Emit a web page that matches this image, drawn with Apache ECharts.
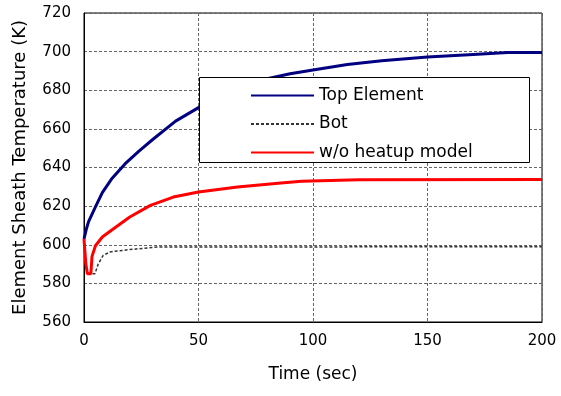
<!DOCTYPE html>
<html>
<head>
<meta charset="utf-8">
<script src="https://cdn.jsdelivr.net/npm/echarts@6/dist/echarts.min.js"></script>
<style>
  html, body { margin: 0; padding: 0; background: #fff; }
  #chart { width: 561px; height: 396px; }
</style>
</head>
<body>
<div id="chart"></div>
<script>
// Top Element
const topTime = [0, 1, 2, 5, 8, 12, 18, 24, 30, 40, 50, 60, 70, 80, 90, 100, 115, 130, 150, 170, 185, 200];
const topTemp = [603, 608, 612, 619.6, 627, 634, 642, 648.5, 654.5, 664, 671, 676.5, 681.5, 686, 688.5, 690.5, 693.3, 695.3, 697.2, 698.5, 699.5, 699.5];
// Bot
const botTime = [0, 0.8, 1.5, 4.8, 6.2, 8.4, 11.4, 20, 31.7, 200];
const botTemp = [603, 590, 585, 585, 590, 594.5, 596.3, 597.5, 598.8, 599];
// w/o heatup model
const redTime = [0, 0.8, 1.5, 3, 3.5, 5, 8, 12, 20, 29, 39, 50, 67, 86, 95, 120, 200];
const redTemp = [603, 590, 585, 585, 594, 599.5, 604, 607.5, 614.4, 620.4, 624.7, 627.3, 629.9, 632, 632.9, 633.7, 633.8];

const xTicks = [0, 50, 100, 150, 200];
const yTicks = [560, 580, 600, 620, 640, 660, 680, 700, 720];

function pairs(t, v) {
  return t.map((x, i) => [x, v[i]]);
}

let myChart = echarts.init(document.getElementById('chart'));
const font = 'DejaVu Sans, sans-serif';

let option = {
  animation: false,
  grid: {
    left: 84, right: 19, top: 13, bottom: 74,
    show: true, borderColor: '#000', borderWidth: 1
  },
  xAxis: {
    type: 'value',
    min: xTicks[0], max: xTicks[xTicks.length - 1], interval: 50,
    name: 'Time (sec)', nameLocation: 'middle', nameGap: 44,
    nameTextStyle: { fontFamily: font, fontSize: 17, color: '#000' },
    axisLine: { lineStyle: { color: '#000' } },
    axisTick: { show: false },
    axisLabel: { fontFamily: font, fontSize: 15, color: '#000', margin: 12 },
    splitLine: { lineStyle: { color: '#666', type: [3, 2] } }
  },
  yAxis: {
    type: 'value',
    min: yTicks[0], max: yTicks[yTicks.length - 1], interval: 20,
    name: 'Element Sheath Temperature (K)', nameLocation: 'middle', nameGap: 55,
    nameTextStyle: { fontFamily: font, fontSize: 18, color: '#000' },
    axisLine: { show: true, lineStyle: { color: '#000' } },
    axisTick: { show: false },
    axisLabel: { fontFamily: font, fontSize: 15, color: '#000', margin: 13 },
    splitLine: { lineStyle: { color: '#666', type: [3, 2] } }
  },
  graphic: [{
    type: 'rect', z: 5,
    shape: { x: 199.5, y: 77.5, width: 330, height: 85 },
    style: { fill: '#fff', stroke: '#000', lineWidth: 1 }
  }],
  legend: {
    z: 10, orient: 'vertical', left: 250, top: 87, padding: 0,
    itemWidth: 63, itemHeight: 14, itemGap: 11.5,
    itemStyle: { opacity: 0 },
    textStyle: { fontFamily: font, fontSize: 17, lineHeight: 14, color: '#000' },
    data: ['Top Element', 'Bot', 'w/o heatup model']
  },
  series: [
    {
      name: 'Top Element', type: 'line', symbol: 'none',
      lineStyle: { color: '#000080', width: 3 }, itemStyle: { color: '#000080' },
      data: pairs(topTime, topTemp)
    },
    {
      name: 'Bot', type: 'line', symbol: 'none',
      lineStyle: { color: '#333', width: 1.5, type: [3, 2] }, itemStyle: { color: '#333' },
      data: pairs(botTime, botTemp)
    },
    {
      name: 'w/o heatup model', type: 'line', symbol: 'none',
      lineStyle: { color: '#ff0000', width: 3 }, itemStyle: { color: '#ff0000' },
      data: pairs(redTime, redTemp)
    }
  ]
};
myChart.setOption(option);
</script>
</body>
</html>
